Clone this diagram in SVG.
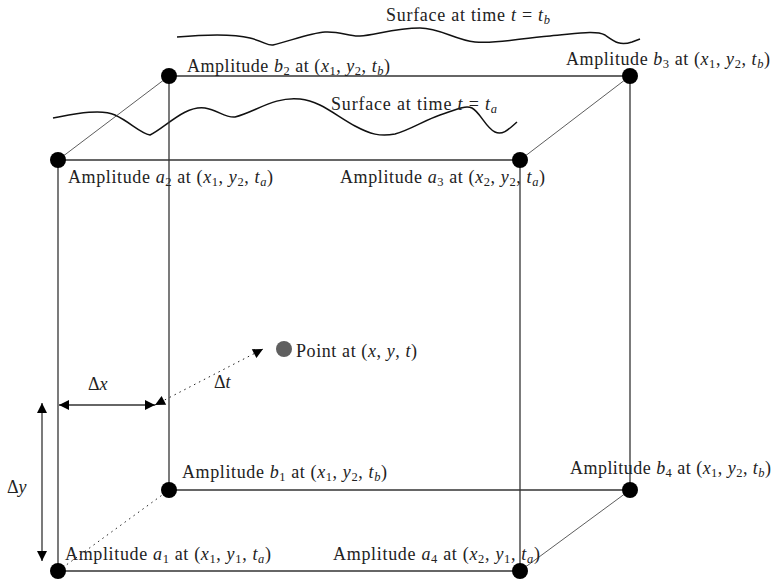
<svg xmlns="http://www.w3.org/2000/svg" width="772" height="582" viewBox="0 0 772 582">
<style>
text{font-family:"Liberation Serif","DejaVu Serif",serif;font-size:18px;fill:#222}
.i{font-style:italic}
.s{font-size:12.5px;baseline-shift:-3px}
.e{stroke:#333;stroke-width:1.3;fill:none}
.d{stroke:#333;stroke-width:0.8;fill:none}
.dot{stroke:#222;stroke-width:1;fill:none;stroke-dasharray:1.5 4}
.c{stroke:#111;stroke-width:1.5;fill:none}
.n{fill:#000}
</style>
<defs>
<marker id="ahl" viewBox="0 0 10 10" refX="10" refY="5" markerWidth="13" markerHeight="10" markerUnits="userSpaceOnUse" orient="auto-start-reverse">
<path d="M0,0 L10,5 L0,10 z" fill="#000"/>
</marker>
</defs>
<g id="surfaces">
<path class="c" d="M177,37 C200,35 230,33 250,38 C265,42 268,46 273,45 C290,41 310,33 325,32 C340,31 350,37 360,36 C375,35 395,28 420,28 C440,28 455,40 475,42 C500,44 520,38 550,36 C575,34 595,30 605,35 C615,42 620,46 632,42 L640,39"/>
<path class="c" d="M53,118 C70,115 100,108 115,115 C130,122 140,133 150,135 C165,128 185,105 205,108 C218,110 225,118 235,117 C255,112 275,96 300,99 C320,101 335,115 355,126 C370,134 380,137 395,134 C410,130 425,120 440,115 C455,110 465,105 472,108 C480,112 486,128 495,132 C503,136 510,128 517,122"/>
<text x="386" y="21" textLength="164" lengthAdjust="spacing">Surface at time <tspan class="i">t</tspan> = <tspan class="i">t</tspan><tspan class="s i">b</tspan></text>
<text x="331" y="110" textLength="166" lengthAdjust="spacing">Surface at time <tspan class="i">t</tspan> = <tspan class="i">t</tspan><tspan class="s i">a</tspan></text>
</g>
<g id="connectors">
<line class="e" x1="58" y1="160" x2="520" y2="160"/>
<line class="e" x1="58" y1="160" x2="58" y2="571"/>
<line class="e" x1="520" y1="160" x2="520" y2="571"/>
<line class="e" x1="58" y1="571" x2="520" y2="571"/>
<line class="e" x1="169" y1="76" x2="630" y2="76"/>
<line class="e" x1="169" y1="76" x2="169" y2="490"/>
<line class="e" x1="169" y1="490" x2="630" y2="490"/>
<line class="e" x1="630" y1="76" x2="630" y2="490"/>
<line class="d" x1="58" y1="160" x2="169" y2="76"/>
<line class="d" x1="520" y1="160" x2="630" y2="76"/>
<line class="d" x1="520" y1="571" x2="630" y2="490"/>
<line class="dot" x1="58" y1="571" x2="169" y2="490"/>
<line class="e" x1="59" y1="405" x2="155" y2="405" marker-start="url(#ahl)" marker-end="url(#ahl)"/>
<line class="dot" x1="155" y1="405" x2="263" y2="349" marker-start="url(#ahl)" marker-end="url(#ahl)"/>
<line class="e" x1="42" y1="403" x2="42" y2="561" marker-start="url(#ahl)" marker-end="url(#ahl)"/>
<text x="88" y="390">Δ<tspan class="i">x</tspan></text>
<text x="214" y="388">Δ<tspan class="i">t</tspan></text>
<text x="7" y="493">Δ<tspan class="i">y</tspan></text>
</g>
<g id="b2"><circle class="n" cx="169" cy="76" r="8"/><text x="187" y="72" textLength="203" lengthAdjust="spacing">Amplitude <tspan class="i">b</tspan><tspan class="s">2</tspan> at (<tspan class="i">x</tspan><tspan class="s">1</tspan>, <tspan class="i">y</tspan><tspan class="s">2</tspan>, <tspan class="i">t</tspan><tspan class="s i">b</tspan>)</text></g>
<g id="b3"><circle class="n" cx="630" cy="76" r="8"/><text x="566" y="65" textLength="204" lengthAdjust="spacing">Amplitude <tspan class="i">b</tspan><tspan class="s">3</tspan> at (<tspan class="i">x</tspan><tspan class="s">1</tspan>, <tspan class="i">y</tspan><tspan class="s">2</tspan>, <tspan class="i">t</tspan><tspan class="s i">b</tspan>)</text></g>
<g id="a2"><circle class="n" cx="58" cy="160" r="8"/><text x="68" y="183" textLength="205" lengthAdjust="spacing">Amplitude <tspan class="i">a</tspan><tspan class="s">2</tspan> at (<tspan class="i">x</tspan><tspan class="s">1</tspan>, <tspan class="i">y</tspan><tspan class="s">2</tspan>, <tspan class="i">t</tspan><tspan class="s i">a</tspan>)</text></g>
<g id="a3"><circle class="n" cx="520" cy="160" r="8"/><text x="340" y="183" textLength="205" lengthAdjust="spacing">Amplitude <tspan class="i">a</tspan><tspan class="s">3</tspan> at (<tspan class="i">x</tspan><tspan class="s">2</tspan>, <tspan class="i">y</tspan><tspan class="s">2</tspan>, <tspan class="i">t</tspan><tspan class="s i">a</tspan>)</text></g>
<g id="b1"><circle class="n" cx="169" cy="490" r="8"/><text x="182" y="478" textLength="205" lengthAdjust="spacing">Amplitude <tspan class="i">b</tspan><tspan class="s">1</tspan> at (<tspan class="i">x</tspan><tspan class="s">1</tspan>, <tspan class="i">y</tspan><tspan class="s">2</tspan>, <tspan class="i">t</tspan><tspan class="s i">b</tspan>)</text></g>
<g id="b4"><circle class="n" cx="630" cy="490" r="8"/><text x="570" y="474" textLength="201" lengthAdjust="spacing">Amplitude <tspan class="i">b</tspan><tspan class="s">4</tspan> at (<tspan class="i">x</tspan><tspan class="s">1</tspan>, <tspan class="i">y</tspan><tspan class="s">2</tspan>, <tspan class="i">t</tspan><tspan class="s i">b</tspan>)</text></g>
<g id="a1"><circle class="n" cx="58" cy="571" r="8"/><text x="65" y="560" textLength="206" lengthAdjust="spacing">Amplitude <tspan class="i">a</tspan><tspan class="s">1</tspan> at (<tspan class="i">x</tspan><tspan class="s">1</tspan>, <tspan class="i">y</tspan><tspan class="s">1</tspan>, <tspan class="i">t</tspan><tspan class="s i">a</tspan>)</text></g>
<g id="a4"><circle class="n" cx="520" cy="571" r="8"/><text x="333" y="560" textLength="207" lengthAdjust="spacing">Amplitude <tspan class="i">a</tspan><tspan class="s">4</tspan> at (<tspan class="i">x</tspan><tspan class="s">2</tspan>, <tspan class="i">y</tspan><tspan class="s">1</tspan>, <tspan class="i">t</tspan><tspan class="s i">a</tspan>)</text></g>
<g id="point"><circle cx="284" cy="349" r="8" fill="#5f5f5f"/><text x="296" y="357" textLength="121" lengthAdjust="spacing">Point at (<tspan class="i">x</tspan>, <tspan class="i">y</tspan>, <tspan class="i">t</tspan>)</text></g>
</svg>
